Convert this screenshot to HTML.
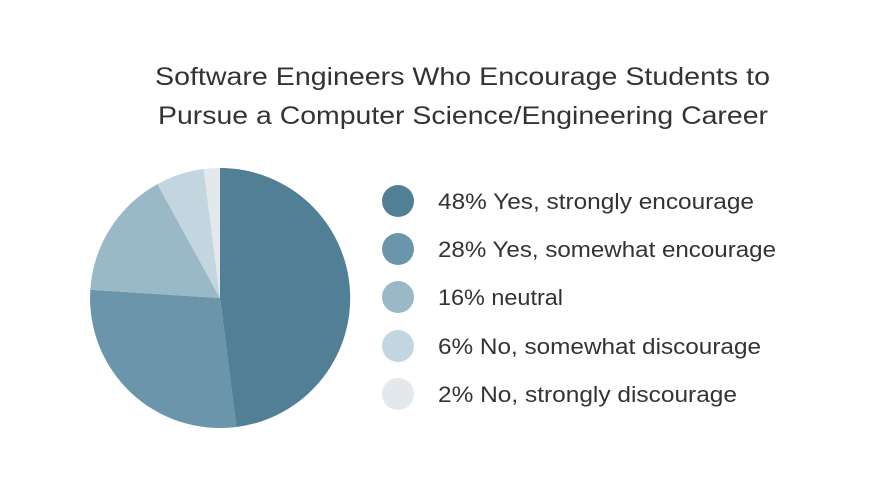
<!DOCTYPE html>
<html><head><meta charset="utf-8"><style>
html,body{margin:0;padding:0;background:#fff;}
svg{display:block;}
text{font-family:"Liberation Sans",sans-serif;fill:#333;}
</style></head><body>
<svg width="880" height="492" viewBox="0 0 880 492" xmlns="http://www.w3.org/2000/svg">
<rect width="880" height="492" fill="#fff"/>
<text x="155" y="85" font-size="25" textLength="615" lengthAdjust="spacingAndGlyphs">Software Engineers Who Encourage Students to</text>
<text x="158" y="124" font-size="25" textLength="610" lengthAdjust="spacingAndGlyphs">Pursue a Computer Science/Engineering Career</text>
<g>
<path d="M220,298 L220,168 A130,130 0 0 1 236.3,427 Z" fill="#517f96"/>
<path d="M220,298 L236.3,427 A130,130 0 0 1 90.3,289.8 Z" fill="#6a95aa"/>
<path d="M220,298 L90.3,289.8 A130,130 0 0 1 157.4,184.1 Z" fill="#9ab9c7"/>
<path d="M220,298 L157.4,184.1 A130,130 0 0 1 203.7,169 Z" fill="#c3d6df"/>
<path d="M220,298 L203.7,169 A130,130 0 0 1 220,168 Z" fill="#e2e8ec"/>
</g>
<circle cx="398" cy="201" r="16" fill="#517f96"/>
<circle cx="398" cy="249" r="16" fill="#6a95aa"/>
<circle cx="398" cy="297" r="16" fill="#9ab9c7"/>
<circle cx="398" cy="346" r="16" fill="#c3d6df"/>
<circle cx="398" cy="394" r="16" fill="#e2e8ec"/>
<text x="438" y="209" font-size="22" textLength="316" lengthAdjust="spacingAndGlyphs">48% Yes, strongly encourage</text>
<text x="438" y="257" font-size="22" textLength="338" lengthAdjust="spacingAndGlyphs">28% Yes, somewhat encourage</text>
<text x="438" y="305" font-size="22" textLength="125" lengthAdjust="spacingAndGlyphs">16% neutral</text>
<text x="438" y="354" font-size="22" textLength="323" lengthAdjust="spacingAndGlyphs">6% No, somewhat discourage</text>
<text x="438" y="402" font-size="22" textLength="299" lengthAdjust="spacingAndGlyphs">2% No, strongly discourage</text>
</svg>
</body></html>
